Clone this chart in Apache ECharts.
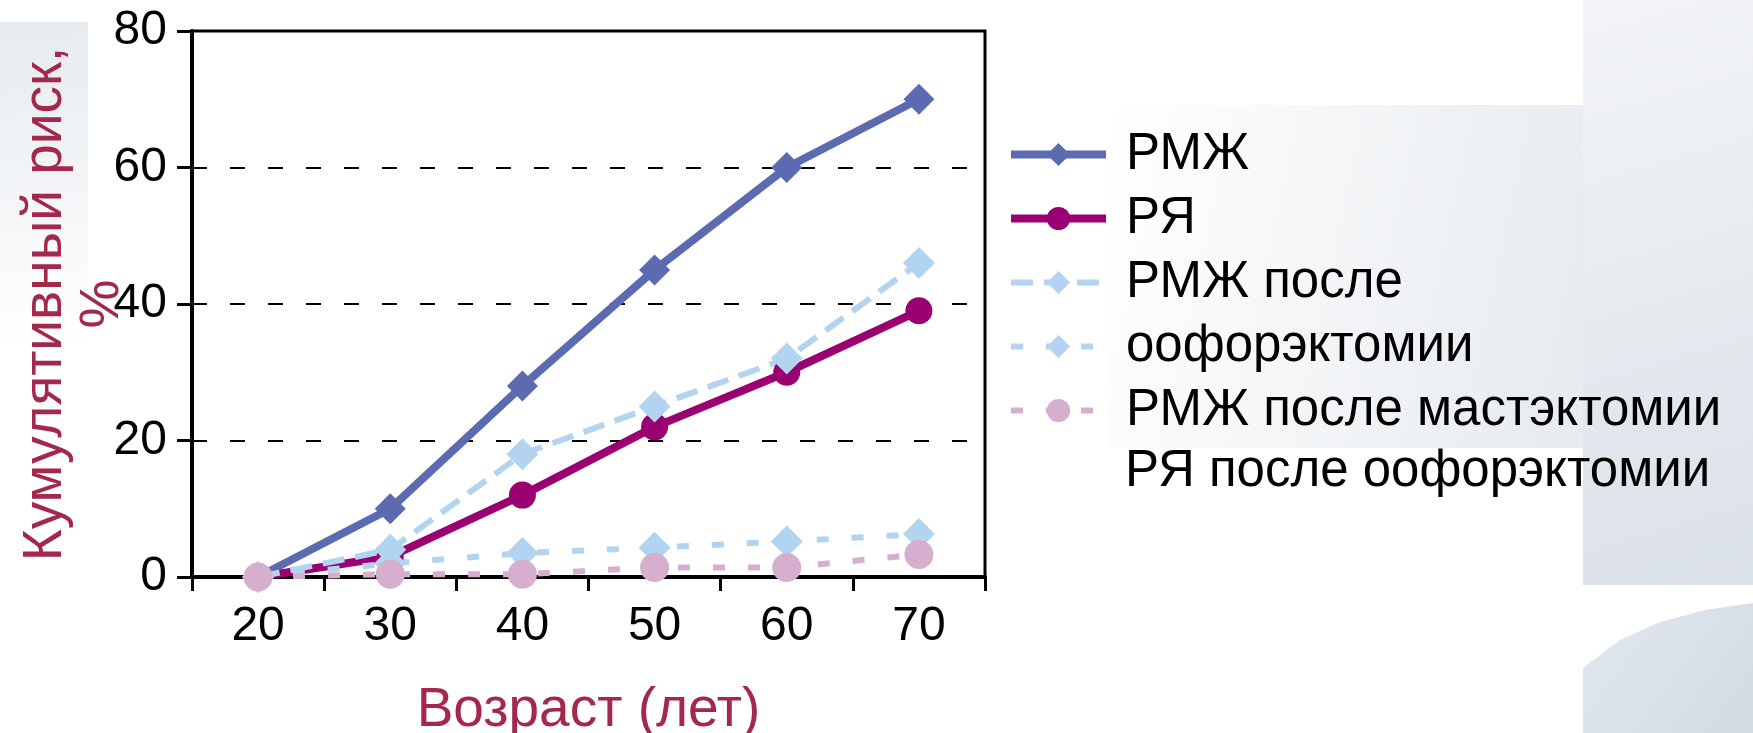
<!DOCTYPE html>
<html>
<head>
<meta charset="utf-8">
<script src="https://cdn.jsdelivr.net/npm/echarts@6/dist/echarts.min.js"></script>
<style>
  html, body { margin: 0; padding: 0; background: #fff; }
  #chart { width: 1753px; height: 733px; }
</style>
</head>
<body>
<div id="chart"></div>
<script>
// возраст, лет
const ages = ['20', '30', '40', '50', '60', '70'];
// кумулятивный риск, %
const rmzh = [0, 10, 28, 45, 60, 70];
const rya = [0, 3, 12, 22, 30, 39];
const rmzhOoph = [0, 4, 18, 25, 32, 46];
const rmzhMast = [0, 2, 3.5, 4.3, 5.2, 6.3];
const ryaOoph = [0, 0.4, 0.4, 1.4, 1.4, 3.3];

const seriesNames = ['РМЖ', 'РЯ', 'РМЖ после оофорэктомии', 'РМЖ после мастэктомии', 'РЯ после оофорэктомии'];
// подписи легенды в том виде, как они стоят на слайде
const legendLines = ['РМЖ', 'РЯ', 'РМЖ после', 'оофорэктомии', 'РМЖ после мастэктомии', 'РЯ после оофорэктомии'];

const font = 'Liberation Sans, Arial, sans-serif';
const nameColor = '#A3284A';

let myChart = echarts.init(document.getElementById('chart'));

function line(name, data, color, width, dash, symbol, size) {
    return {
        name: name,
        type: 'line',
        data: data,
        symbol: symbol,
        symbolSize: size,
        showAllSymbol: true,
        itemStyle: { color: color },
        lineStyle: { color: color, width: width, type: dash },
        emphasis: { disabled: true }
    };
}

function grad(x2, y2, c1, c2) {
    return {
        type: 'linear', x: 0, y: 0, x2: x2, y2: y2,
        colorStops: [{ offset: 0, color: c1 }, { offset: 1, color: c2 }]
    };
}

let option = {
    animation: false,
    backgroundColor: '#fff',
    graphic: [
        // фон слайда
        {
            type: 'rect', z: -10, silent: true,
            shape: { x: 0, y: 22, width: 88, height: 330 },
            style: { fill: grad(0.3, 1, '#e6ebf0', '#ffffff') }
        },
        {
            type: 'rect', z: -10, silent: true,
            shape: { x: 1108, y: 105, width: 480, height: 343 },
            style: { fill: grad(1, 0.3, '#ffffff', '#e8ecf0') }
        },
        {
            type: 'rect', z: -10, silent: true,
            shape: { x: 1583, y: 0, width: 170, height: 585 },
            style: { fill: grad(1, 1, '#f2f4f7', '#dbe1e8') }
        },
        {
            type: 'polygon', z: -10, silent: true,
            shape: { points: [[1583, 668], [1620, 640], [1660, 622], [1705, 610], [1753, 603], [1753, 733], [1583, 733]] },
            style: { fill: grad(1, 1, '#e3e8ee', '#d2dae3') }
        },
        {
            type: 'text', silent: true,
            left: 1125, top: 446,
            style: { text: legendLines[5], font: '51px ' + font, fill: '#000' }
        }
    ],
    grid: {
        left: 192,
        right: 768,
        top: 31,
        bottom: 156,
        containLabel: false,
        outerBoundsMode: 'none',
        show: true,
        borderColor: '#000',
        borderWidth: 3
    },
    legend: {
        orient: 'vertical',
        left: 1007,
        top: 129,
        padding: 0,
        itemWidth: 95,
        itemHeight: 29,
        itemGap: 13,
        data: seriesNames,
        formatter: function (name) {
            return legendLines[seriesNames.indexOf(name)];
        },
        lineStyle: { width: 'inherit' },
        textStyle: {
            fontSize: 51,
            lineHeight: 49,
            fontFamily: font,
            color: '#000',
            padding: [0, 0, 0, 15]
        },
        selectedMode: false
    },
    xAxis: {
        type: 'category',
        data: ages,
        boundaryGap: true,
        name: 'Возраст (лет)',
        nameLocation: 'middle',
        nameGap: 106,
        nameMoveOverlap: false,
        nameTextStyle: { fontSize: 55, fontFamily: font, color: nameColor },
        axisLine: { show: true, lineStyle: { color: '#000', width: 4 } },
        axisTick: { show: true, inside: false, length: 14, alignWithLabel: false, lineStyle: { color: '#000', width: 3 } },
        axisLabel: { fontSize: 48, fontFamily: font, color: '#000', margin: 26 },
        splitLine: { show: false }
    },
    yAxis: {
        type: 'value',
        min: 0,
        max: 80,
        interval: 20,
        name: 'Кумулятивный риск,\n%',
        nameLocation: 'middle',
        nameGap: 61,
        nameMoveOverlap: false,
        nameTextStyle: { fontSize: 55, lineHeight: 57, fontFamily: font, color: nameColor },
        axisLine: { show: true, lineStyle: { color: '#000', width: 4 } },
        axisTick: { show: true, inside: false, length: 15, lineStyle: { color: '#000', width: 3 } },
        axisLabel: { fontSize: 48, fontFamily: font, color: '#000', margin: 25 },
        splitLine: { show: true, lineStyle: { color: '#000', width: 2, type: [15, 23] } }
    },
    series: [
        line(seriesNames[0], rmzh, '#5C6BB1', 8, 'solid', 'diamond', 31),
        line(seriesNames[1], rya, '#9B0072', 8, 'solid', 'circle', 27),
        line(seriesNames[2], rmzhOoph, '#B2D4F0', 6, [22, 11], 'diamond', 32),
        line(seriesNames[3], rmzhMast, '#B2D4F0', 6, [12, 23], 'diamond', 32),
        line(seriesNames[4], ryaOoph, '#D6AFCF', 6, [12, 23], 'circle', 29)
    ]
};
myChart.setOption(option);
</script>
</body>
</html>
